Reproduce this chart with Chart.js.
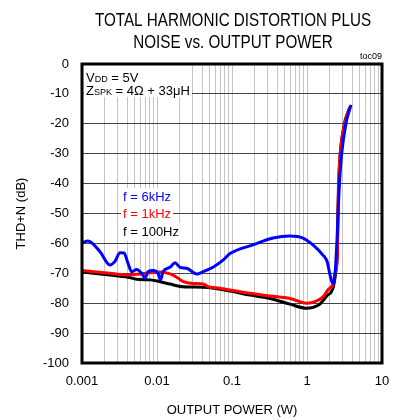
<!DOCTYPE html>
<html>
<head>
<meta charset="utf-8">
<script src="https://cdn.jsdelivr.net/npm/chart.js@4/dist/chart.umd.min.js"></script>
<style>
  html, body { margin: 0; padding: 0; background: #fff; }
  #wrap { width: 401px; height: 420px; }
</style>
</head>
<body>
<div id="wrap"><canvas id="c" width="401" height="420"></canvas></div>
<script>
// ---- Data ----
const xTickValues = [0.001, 0.01, 0.1, 1, 10];
const xTickLabels = ['0.001', '0.01', '0.1', '1', '10'];
const yTickValues = [0, -10, -20, -30, -40, -50, -60, -70, -80, -90, -100];
const yTickLabels = ['0', '-10', '-20', '-30', '-40', '-50', '-60', '-70', '-80', '-90', '-100'];

const seriesNames = ['f = 6kHz', 'f = 1kHz', 'f = 100Hz'];

const power6k = [0.001, 0.0012, 0.00174, 0.00236, 0.00275, 0.00321, 0.00363, 0.0041, 0.0046, 0.00536,
  0.00625, 0.00692, 0.00759, 0.00885, 0.0103, 0.0112, 0.012, 0.0149, 0.0174, 0.0203,
  0.0249, 0.0338, 0.041, 0.0558, 0.0759, 0.094, 0.19, 0.352, 0.593, 0.885,
  1.2, 1.63, 1.85, 2.03, 2.2, 2.36, 2.51, 2.68, 2.9, 3.3, 3.86];
const thd6k = [-59.8, -59.2, -62.8, -67.2, -66, -63.1, -63.2, -66.6, -69.5, -68.7,
  -70, -71.6, -69.5, -69.1, -70, -72.2, -69.5, -68, -66.5, -68,
  -68.3, -70.2, -69.5, -68, -65.6, -63.4, -60.5, -58.2, -57.5, -58.2,
  -60.5, -63.9, -66, -70.6, -73.3, -70.5, -59, -42, -30, -20, -13.7];

const power1k = [0.001, 0.00236, 0.0041, 0.0059, 0.00807, 0.011, 0.0149, 0.0183, 0.0224, 0.0305,
  0.0414, 0.0483, 0.0692, 0.094, 0.174, 0.321, 0.593, 0.99, 1.35, 1.65,
  1.92, 2.24, 2.36, 2.54, 2.58, 2.62, 2.75, 3.21, 3.74];
const thd1k = [-69.1, -70, -70.6, -70.2, -69.8, -69.6, -70.2, -71.3, -72.8, -73.4,
  -73.6, -74.5, -75, -75.6, -76.7, -77.6, -78.4, -80, -79.2, -77.8,
  -75.4, -73.4, -70, -64.4, -50, -42, -31, -19.7, -14.3];

const power100 = [0.001, 0.00236, 0.0041, 0.00536, 0.00807, 0.011, 0.0149, 0.0224, 0.0414, 0.094,
  0.174, 0.321, 0.593, 0.99, 1.2, 1.49, 1.83, 2.24, 2.4, 2.54,
  2.6, 2.7, 3.1, 3.7];
const thd100 = [-69.5, -70.6, -71.3, -72, -72.2, -72.8, -73.6, -74.5, -74.7, -75.9,
  -77.3, -78.4, -80.3, -81.7, -81.4, -80.3, -77.6, -74.6, -70, -62,
  -48, -35, -21, -14.5];

function pts(xs, ys) { return xs.map((x, i) => ({ x: x, y: ys[i] })); }

const FONT = '"Liberation Sans", Arial, Helvetica, sans-serif';

// ---- Custom drawing plugin (title, annotations, frame) ----
const decor = {
  id: 'decor',
  beforeDatasetsDraw(chart) {
    const ctx = chart.ctx;
    ctx.save();
    // annotation box (covers grid)
    ctx.fillStyle = '#fff';
    ctx.fillRect(84, 65, 108, 32);
    ctx.fillStyle = '#000';
    ctx.textBaseline = 'alphabetic';
    ctx.textAlign = 'left';
    // VDD = 5V
    let x = 86;
    ctx.font = '13px ' + FONT;
    ctx.fillText('V', x, 82); x += ctx.measureText('V').width;
    ctx.font = '9px ' + FONT;
    ctx.fillText('DD', x, 82); x += ctx.measureText('DD').width;
    ctx.font = '13px ' + FONT;
    ctx.fillText(' = 5V', x, 82);
    // ZSPK = 4Ω + 33μH
    x = 86;
    ctx.fillText('Z', x, 95); x += ctx.measureText('Z').width;
    ctx.font = '9px ' + FONT;
    ctx.fillText('SPK', x, 95); x += ctx.measureText('SPK').width;
    ctx.font = '13px ' + FONT;
    ctx.fillText(' = 4\u03A9 + 33\u03BCH', x, 95);

    // series labels
    const labelColors = ['#0000ff', '#ff0000', '#000000'];
    const labelY = [197, 214, 232];
    ctx.font = '13px ' + FONT;
    ctx.textBaseline = 'middle';
    for (let i = 0; i < seriesNames.length; i++) {
      const w = ctx.measureText(seriesNames[i]).width;
      ctx.fillStyle = '#fff';
      ctx.fillRect(121, labelY[i] - 9, w + 4, 18);
    }
    for (let i = 0; i < seriesNames.length; i++) {
      ctx.fillStyle = labelColors[i];
      ctx.fillText(seriesNames[i], 123, labelY[i]);
    }
    ctx.restore();
  },
  afterDatasetsDraw(chart) {
    const ctx = chart.ctx;
    const a = chart.chartArea;
    ctx.save();
    ctx.strokeStyle = '#000';
    ctx.lineWidth = 3;
    ctx.strokeRect(a.left, a.top, a.right - a.left, a.bottom - a.top);
    ctx.restore();
  },
  afterDraw(chart) {
    const ctx = chart.ctx;
    ctx.save();
    ctx.fillStyle = '#000';
    ctx.textAlign = 'center';
    ctx.textBaseline = 'middle';
    ctx.font = '18px ' + FONT;
    const lines = ['TOTAL HARMONIC DISTORTION PLUS', 'NOISE vs. OUTPUT POWER'];
    const ys = [21.5, 43];
    for (let i = 0; i < lines.length; i++) {
      ctx.save();
      ctx.translate(233, ys[i]);
      ctx.scale(0.845, 1);
      ctx.fillText(lines[i], 0, 0);
      ctx.restore();
    }
    ctx.font = '9px ' + FONT;
    ctx.textAlign = 'right';
    ctx.fillText('toc09', 382, 57);
    ctx.restore();
  }
};

new Chart(document.getElementById('c'), {
  type: 'line',
  data: {
    datasets: [
      { label: seriesNames[0], data: pts(power6k, thd6k), borderColor: '#0000ff', borderWidth: 3,
        pointRadius: 0, cubicInterpolationMode: 'monotone', fill: false },
      { label: seriesNames[1], data: pts(power1k, thd1k), borderColor: '#ff0000', borderWidth: 3,
        pointRadius: 0, cubicInterpolationMode: 'monotone', fill: false },
      { label: seriesNames[2], data: pts(power100, thd100), borderColor: '#000000', borderWidth: 3,
        pointRadius: 0, cubicInterpolationMode: 'monotone', fill: false }
    ]
  },
  options: {
    responsive: false,
    animation: false,
    devicePixelRatio: 1,
    layout: { padding: { top: 64, right: 19, left: 0, bottom: 0 } },
    plugins: { legend: { display: false }, tooltip: { enabled: false }, title: { display: false } },
    scales: {
      x: {
        type: 'logarithmic',
        min: 0.001,
        max: 10,
        afterFit(s) { s.height = 57; },
        afterBuildTicks(s) {
          const t = [];
          for (let k = 0; k < xTickValues.length - 1; k++) {
            for (let m = 1; m <= 9; m++) t.push({ value: xTickValues[k] * m });
          }
          t.push({ value: xTickValues[xTickValues.length - 1] });
          s.ticks = t;
        },
        ticks: {
          autoSkip: false,
          maxRotation: 0,
          minRotation: 0,
          padding: 11,
          color: '#000',
          font: { family: FONT, size: 13 },
          callback(v) {
            for (let i = 0; i < xTickValues.length; i++) {
              if (Math.abs(v - xTickValues[i]) < xTickValues[i] * 1e-6) return xTickLabels[i];
            }
            return '';
          }
        },
        grid: { color: '#c4c4c4', lineWidth: 1, drawTicks: false },
        border: { display: false },
        title: { display: true, text: 'OUTPUT POWER (W)', color: '#000',
          font: { family: FONT, size: 13 }, padding: { top: 0, bottom: 2 } }
      },
      y: {
        type: 'linear',
        min: -100,
        max: 0,
        afterFit(s) { s.width = 82; },
        afterBuildTicks(s) { s.ticks = yTickValues.map(v => ({ value: v })); },
        ticks: {
          padding: 13,
          color: '#000',
          font: { family: FONT, size: 13 },
          callback(v) {
            const i = yTickValues.indexOf(v);
            return i >= 0 ? yTickLabels[i] : '';
          }
        },
        grid: { color: '#444', lineWidth: 1, drawTicks: false },
        border: { display: false },
        title: { display: true, text: 'THD+N (dB)', color: '#000',
          font: { family: FONT, size: 13 }, padding: { top: 14, bottom: 0 } }
      }
    }
  },
  plugins: [decor]
});
</script>
</body>
</html>
